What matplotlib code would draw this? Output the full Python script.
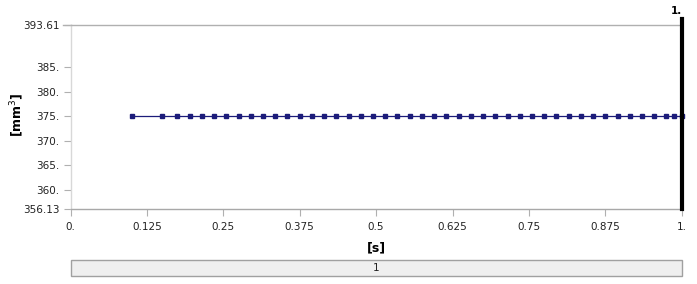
import matplotlib
matplotlib.use("Agg")
import matplotlib.pyplot as plt
from matplotlib.patches import Rectangle

# Data
time_s = [0.1, 0.15, 0.175, 0.195, 0.215, 0.235, 0.255, 0.275, 0.295, 0.315,
          0.335, 0.355, 0.375, 0.395, 0.415, 0.435, 0.455, 0.475, 0.495, 0.515,
          0.535, 0.555, 0.575, 0.595, 0.615, 0.635, 0.655, 0.675, 0.695, 0.715,
          0.735, 0.755, 0.775, 0.795, 0.815, 0.835, 0.855, 0.875, 0.895, 0.915,
          0.935, 0.955, 0.975, 0.9875, 1.0]
volume_mm3 = [375.0] * len(time_s)
y_min, y_max = 356.13, 393.61
y_ticks = [356.13, 360, 365, 370, 375, 380, 385, 393.61]
y_tick_labels = ["356.13", "360.", "365.", "370.", "375.", "380.", "385.", "393.61"]
x_ticks = [0, 0.125, 0.25, 0.375, 0.5, 0.625, 0.75, 0.875, 1.0]
x_tick_labels = ["0.", "0.125", "0.25", "0.375", "0.5", "0.625", "0.75", "0.875", "1."]
cursor_time = 1.0
cursor_label = "1."
step_label = "1"

W, H = 697, 284
fig = plt.figure(figsize=(W / 100, H / 100), dpi=100)
fig.patch.set_facecolor("white")

left, right, top, bottom = 70.5, 681.7, 25, 209
ax = fig.add_axes([left / W, 1 - bottom / H, (right - left) / W, (bottom - top) / H])
ax.set_xlim(0, 1)
ax.set_ylim(y_min, y_max)

ax.plot(time_s, volume_mm3, color="#1c1c7a", lw=0.9, marker="s", ms=2.2,
        mfc="#1c1c7a", mec="#1c1c7a", zorder=3, clip_on=False)

ax.set_yticks(y_ticks)
ax.set_yticklabels(y_tick_labels, fontsize=7.5, color="#222222")
ax.set_xticks(x_ticks)
ax.set_xticklabels(x_tick_labels, fontsize=7.5, color="#222222")
ax.tick_params(axis="both", length=5, width=0.8, color="#b0b0b0", pad=3)
ax.tick_params(axis="x", pad=4)

ax.spines["right"].set_visible(False)
ax.spines["top"].set_color("#b0b0b0")
ax.spines["left"].set_color("#d8d8d8")
ax.spines["bottom"].set_color("#a8a8a8")
for s in ["top", "left", "bottom"]:
    ax.spines[s].set_linewidth(1.0)

# top gridline extends left like a tick
ax.plot([-0.013, 0], [y_max, y_max], color="#b0b0b0", lw=1.0, clip_on=False)

# cursor line
ax.axvline(cursor_time, ymin=0, ymax=1.03, color="black", lw=3, clip_on=False, zorder=4)
ax.text(cursor_time, y_max + (y_max - y_min) * 0.05, cursor_label, ha="right", va="bottom",
        fontsize=7.5, fontweight="bold", color="black")

ax.set_ylabel("[mm$^3$]", fontsize=9, fontweight="bold")
ax.yaxis.set_label_coords((26 - left) / (right - left), 1 - (115 - top) / (bottom - top))
fig.text((left + right) / 2 / W, 1 - 248 / H, "[s]", ha="center", va="center",
         fontsize=9, fontweight="bold")

# step bar
bax = fig.add_axes([left / W, 1 - 276 / H, (right - left) / W, 16 / H])
bax.set_xlim(0, 1)
bax.set_ylim(0, 1)
bax.axis("off")
bax.add_patch(Rectangle((0, 0), 1, 1, facecolor="#efefef", edgecolor="#a0a0a0", lw=1.0,
                        transform=bax.transAxes, clip_on=False))
bax.text(0.5, 0.5, step_label, ha="center", va="center", fontsize=7.5, color="#222222")

fig.savefig("out.png", dpi=100, facecolor="white")
